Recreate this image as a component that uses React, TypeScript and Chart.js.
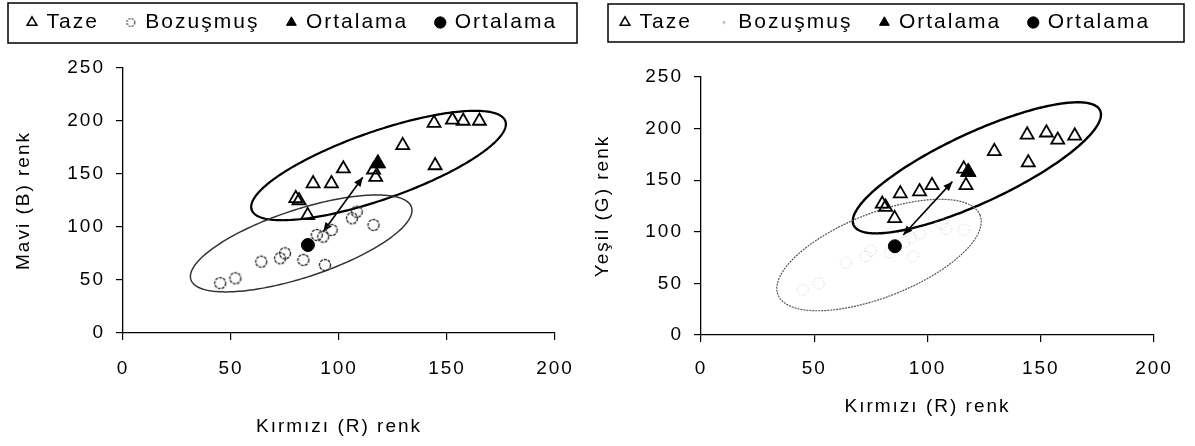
import React, { useEffect, useRef } from 'react';
import { Chart, registerables } from 'chart.js';

Chart.register(...registerables);

// ---------------- data ----------------
const legendLabels = ['Taze', 'Bozuşmuş', 'Ortalama', 'Ortalama'];
const xTitle = 'Kırmızı (R) renk';
const yTitleBlue = 'Mavi (B) renk';
const yTitleGreen = 'Yeşil (G) renk';
const xTicks = [0, 50, 100, 150, 200];
const yTicks = [0, 50, 100, 150, 200, 250];

// Taze (fresh) samples: red value, blue value, green value
const freshR = [80, 81.5, 85.5, 88, 96.5, 102, 116, 117, 129.5, 144, 144.5, 152.5, 157.5, 165];
const freshB = [127, 125, 111, 141, 141, 155, 154, 147, 177, 198, 158, 201, 200, 200];
const freshG = [127, 124, 113, 137, 139, 145, 161, 145, 178, 194, 167, 196, 189, 193];

// Bozuşmuş (spoiled) samples
const spoiledR = [45, 52, 64, 72.7, 75, 83.5, 93.5, 92.7, 89.7, 96.6, 106, 108.2, 116];
const spoiledB = [47, 51.6, 67.3, 70.5, 75.2, 68.9, 64.2, 90.9, 92.5, 97.2, 108.2, 114.4, 101.9];
const spoiledG = [44, 50, 70, 76, 82, 80, 76, 94, 90, 98, 108, 103, 102];

// Ortalama (means)
const meanFreshR = [118];
const meanFreshB = [160];
const meanFreshG = [158];
const meanSpoiledR = [85.6];
const meanSpoiledB = [83];
const meanSpoiledG = [86];

// group ellipses in data units: [centerX, centerY, axis1X, axis1Y, axis2X, axis2Y]
const ellipseFreshB = [118.3, 158, 58.7, 42, -5.5, 30];
const ellipseSpoiledB = [82.5, 84.5, 51, 34.5, -5.4, 30];
const ellipseFreshG = [121.8, 162, 54.4, 55.6, -6.5, 30.7];
const ellipseSpoiledG = [78.6, 77.5, 44.6, 38.5, -6.8, 37.9];

// double arrows between group means: [x1, y1, x2, y2]
const arrowB = [92.7, 95.6, 111, 147];
const arrowG = [89.3, 96.9, 111, 148.6];

// ---------------- helpers ----------------
const FONT = '"Liberation Sans", Arial, Helvetica, sans-serif';
const LETTER_SPACING = '2px';

function ringImage(r: number, color: string, lw: number, dash: number[]) {
  const c = document.createElement('canvas');
  const s = Math.ceil(r * 2 + lw + 3);
  c.width = s;
  c.height = s;
  const ctx = c.getContext('2d')!;
  ctx.strokeStyle = color;
  ctx.lineWidth = lw;
  ctx.setLineDash(dash);
  ctx.beginPath();
  ctx.arc(s / 2, s / 2, r, 0, Math.PI * 2);
  ctx.stroke();
  return c;
}

function pts(xs: number[], ys: number[]) {
  return xs.map((x, i) => ({ x, y: ys[i] }));
}

type Panel = {
  width: number;
  left: number;
  yTitle: string;
  freshY: number[];
  spoiledY: number[];
  meanFreshY: number[];
  meanSpoiledY: number[];
  ellipses: { p: number[]; color: string; width: number; dash: number[] }[];
  arrow: number[];
  ring: HTMLCanvasElement;
  legendRing: HTMLCanvasElement;
  yWidth: number;
  xHeight: number;
  rightSpace: number;
  legendPad: number;
  layoutTop: number;
  spacer: number;
  xTickPad: number;
  xTitlePad: number;
  yTitlePad: number;
  frame: number[]; // left, top, right, bottom
};

function makePlugin(p: Panel) {
  const setLS = (chart: any) => {
    chart.ctx.letterSpacing = LETTER_SPACING;
  };
  return {
    id: 'panelExtras',
    beforeUpdate: setLS,
    beforeLayout: setLS,
    beforeDraw: setLS,
    beforeDatasetsDraw(chart: any) {
      const { ctx } = chart;
      const xs = chart.scales.x;
      const ys = chart.scales.y;
      ctx.save();
      for (const e of p.ellipses) {
        const [cx, cy, ux, uy, vx, vy] = e.p;
        ctx.beginPath();
        const n = 240;
        for (let i = 0; i <= n; i++) {
          const t = (i / n) * Math.PI * 2;
          const px = xs.getPixelForValue(cx + ux * Math.cos(t) + vx * Math.sin(t));
          const py = ys.getPixelForValue(cy + uy * Math.cos(t) + vy * Math.sin(t));
          if (i === 0) ctx.moveTo(px, py);
          else ctx.lineTo(px, py);
        }
        ctx.closePath();
        ctx.strokeStyle = e.color;
        ctx.lineWidth = e.width;
        ctx.setLineDash(e.dash);
        ctx.stroke();
      }
      ctx.setLineDash([]);
      const [x1, y1, x2, y2] = p.arrow;
      const ax = xs.getPixelForValue(x1);
      const ay = ys.getPixelForValue(y1);
      const bx = xs.getPixelForValue(x2);
      const by = ys.getPixelForValue(y2);
      ctx.strokeStyle = '#000';
      ctx.fillStyle = '#000';
      ctx.lineWidth = 1.6;
      ctx.beginPath();
      ctx.moveTo(ax, ay);
      ctx.lineTo(bx, by);
      ctx.stroke();
      const head = (tx: number, ty: number, fx: number, fy: number) => {
        const ang = Math.atan2(ty - fy, tx - fx);
        const L = 10;
        const w = 0.4;
        ctx.beginPath();
        ctx.moveTo(tx, ty);
        ctx.lineTo(tx - L * Math.cos(ang - w), ty - L * Math.sin(ang - w));
        ctx.lineTo(tx - L * Math.cos(ang + w), ty - L * Math.sin(ang + w));
        ctx.closePath();
        ctx.fill();
      };
      head(bx, by, ax, ay);
      head(ax, ay, bx, by);
      ctx.restore();
    },
    afterDraw(chart: any) {
      const { ctx } = chart;
      const [l, t, r, b] = p.frame;
      ctx.save();
      ctx.strokeStyle = '#000';
      ctx.lineWidth = 1.5;
      ctx.strokeRect(l, t, r - l, b - t);
      ctx.restore();
    },
  };
}

function buildConfig(p: Panel): any {
  const datasets = [
    {
      label: legendLabels[0],
      data: pts(freshR, p.freshY),
      pointStyle: 'triangle',
      pointRadius: 7.5,
      pointBorderWidth: 1.8,
      pointBorderColor: '#000',
      pointBackgroundColor: 'rgba(255,255,255,0)',
      order: 2,
    },
    {
      label: legendLabels[1],
      data: pts(spoiledR, p.spoiledY),
      pointStyle: p.ring,
      pointRadius: 6,
      order: 2,
    },
    {
      label: legendLabels[2],
      data: pts(meanFreshR, p.meanFreshY),
      pointStyle: 'triangle',
      pointRadius: 9,
      pointBorderWidth: 1,
      pointBorderColor: '#000',
      pointBackgroundColor: '#000',
      order: 0,
    },
    {
      label: legendLabels[3],
      data: pts(meanSpoiledR, p.meanSpoiledY),
      pointStyle: 'circle',
      pointRadius: 6.5,
      pointBorderWidth: 1,
      pointBorderColor: '#000',
      pointBackgroundColor: '#000',
      order: 0,
    },
  ];

  const legendItems = () => [
    { text: legendLabels[0], fillStyle: 'rgba(255,255,255,0)', strokeStyle: '#000', lineWidth: 1.5, pointStyle: 'triangle', hidden: false, datasetIndex: 0, fontColor: '#000' },
    { text: legendLabels[1], fillStyle: 'rgba(255,255,255,0)', strokeStyle: '#555', lineWidth: 1, pointStyle: p.legendRing, hidden: false, datasetIndex: 1, fontColor: '#000' },
    { text: legendLabels[2], fillStyle: '#000', strokeStyle: '#000', lineWidth: 1, pointStyle: 'triangle', hidden: false, datasetIndex: 2, fontColor: '#000' },
    { text: legendLabels[3], fillStyle: '#000', strokeStyle: '#000', lineWidth: 1, pointStyle: 'circle', hidden: false, datasetIndex: 3, fontColor: '#000' },
  ];

  return {
    type: 'scatter',
    data: { datasets },
    options: {
      responsive: false,
      animation: false,
      events: [],
      layout: { padding: { top: p.layoutTop, left: 0, right: 0, bottom: 0 } },
      plugins: {
        tooltip: { enabled: false },
        legend: {
          display: true,
          position: 'top',
          align: 'start',
          weight: 3000,
          fullSize: true,
          labels: {
            usePointStyle: true,
            boxWidth: 8,
            boxHeight: 8,
            padding: p.legendPad,
            color: '#000',
            font: { size: 21, family: FONT },
            generateLabels: legendItems,
          },
        },
        title: {
          display: true,
          text: '',
          weight: 100,
          font: { size: 10, family: FONT },
          padding: { top: 0, bottom: p.spacer - 12 },
        },
      },
      scales: {
        x: {
          type: 'linear',
          position: 'bottom',
          min: 0,
          max: 200,
          afterBuildTicks: (s: any) => {
            s.ticks = xTicks.map((v) => ({ value: v }));
          },
          ticks: { font: { size: 19, family: FONT }, color: '#000', padding: p.xTickPad, maxRotation: 0 },
          grid: { drawOnChartArea: false, drawTicks: true, tickLength: 7, color: '#000', lineWidth: 1.2 },
          border: { display: true, color: '#000', width: 1.3 },
          title: {
            display: true,
            text: xTitle,
            color: '#000',
            font: { size: 19, family: FONT },
            padding: { top: 0, bottom: p.xTitlePad },
          },
          afterFit: (s: any) => {
            s.height = p.xHeight;
          },
        },
        y: {
          type: 'linear',
          position: 'left',
          min: 0,
          max: 250,
          afterBuildTicks: (s: any) => {
            s.ticks = yTicks.map((v) => ({ value: v }));
          },
          ticks: { font: { size: 19, family: FONT }, color: '#000', padding: 11 },
          grid: { drawOnChartArea: false, drawTicks: true, tickLength: 7, color: '#000', lineWidth: 1.2 },
          border: { display: true, color: '#000', width: 1.3 },
          title: {
            display: true,
            text: p.yTitle,
            color: '#000',
            font: { size: 19, family: FONT },
            padding: { top: p.yTitlePad, bottom: 0 },
          },
          afterFit: (s: any) => {
            s.width = p.yWidth;
          },
        },
        spacer: {
          type: 'linear',
          position: 'right',
          display: true,
          grid: { display: false },
          border: { display: false },
          ticks: { display: false },
          afterFit: (s: any) => {
            s.width = p.rightSpace;
          },
        },
      },
    },
    plugins: [makePlugin(p)],
  };
}

function ChartPanel({ make }: { make: () => Panel }) {
  const ref = useRef<HTMLCanvasElement | null>(null);
  const panelRef = useRef<Panel | null>(null);
  if (!panelRef.current) panelRef.current = make();
  const p = panelRef.current;
  useEffect(() => {
    if (!ref.current) return;
    const chart = new Chart(ref.current, buildConfig(p));
    return () => chart.destroy();
  }, []);
  return (
    <canvas
      ref={ref}
      width={p.width}
      height={446}
      style={{ position: 'absolute', left: p.left, top: 0, width: p.width, height: 446, display: 'block' }}
    />
  );
}

const makeLeft = (): Panel => ({
  width: 593,
  left: 0,
  yTitle: yTitleBlue,
  freshY: freshB,
  spoiledY: spoiledB,
  meanFreshY: meanFreshB,
  meanSpoiledY: meanSpoiledB,
  ellipses: [
    { p: ellipseFreshB, color: '#000', width: 2.2, dash: [] },
    { p: ellipseSpoiledB, color: '#333', width: 1.5, dash: [] },
  ],
  arrow: arrowB,
  ring: ringImage(5.5, '#333', 1.4, [3, 1]),
  legendRing: ringImage(4, '#444', 1.2, [2, 1.2]),
  yWidth: 123,
  xHeight: 113,
  rightSpace: 38,
  legendPad: 28,
  layoutTop: -16,
  spacer: 25,
  xTickPad: 17,
  xTitlePad: 8,
  yTitlePad: 12,
  frame: [8, 3, 577, 43],
});

const makeRight = (): Panel => ({
  width: 602,
  left: 593,
  yTitle: yTitleGreen,
  freshY: freshG,
  spoiledY: spoiledG,
  meanFreshY: meanFreshG,
  meanSpoiledY: meanSpoiledG,
  ellipses: [
    { p: ellipseFreshG, color: '#000', width: 2.4, dash: [] },
    { p: ellipseSpoiledG, color: '#555', width: 1.2, dash: [2, 1] },
  ],
  arrow: arrowG,
  ring: ringImage(5.5, '#c4c4c4', 1, [1, 2]),
  legendRing: ringImage(1, '#999', 1, []),
  yWidth: 108,
  xHeight: 111,
  rightSpace: 41,
  legendPad: 28,
  layoutTop: -16,
  spacer: 34,
  xTickPad: 15,
  xTitlePad: 28,
  yTitlePad: -2,
  frame: [15, 4, 591, 42],
});

export default function App() {
  useEffect(() => {
    document.body.style.margin = '0';
    document.body.style.background = '#fff';
  }, []);
  return (
    <div style={{ position: 'relative', width: 1195, height: 446, background: '#fff', overflow: 'hidden' }}>
      <ChartPanel make={makeLeft} />
      <ChartPanel make={makeRight} />
    </div>
  );
}
